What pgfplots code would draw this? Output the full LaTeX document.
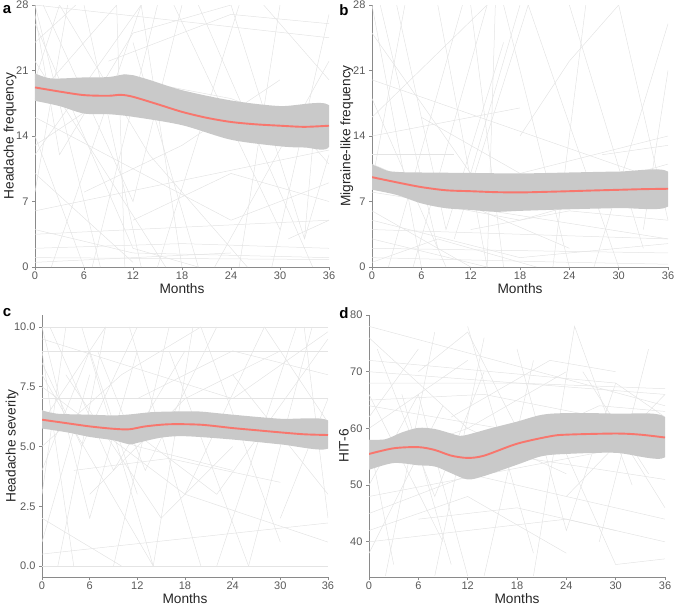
\documentclass[border=0pt]{standalone}
\usepackage{fontspec}
\setmainfont{Liberation Sans}
\usepackage{pgfplots}
\pgfplotsset{compat=1.18}
\definecolor{smred}{HTML}{F8766D}
\definecolor{bandc}{HTML}{C9C9C9}
\definecolor{spagc}{HTML}{E4E4E4}
\definecolor{axgray}{HTML}{8A8A8A}
\definecolor{ticklab}{HTML}{595959}
\newcommand{\lblfont}{\fontsize{13.7}{15}\selectfont}
\pgfplotsset{
  panel/.style={
    scale only axis, anchor=south west,
    axis x line*=bottom, axis y line*=left,
    axis line style={axgray, line width=0.9pt, -},
    every tick/.style={axgray, line width=0.7pt},
    tick align=outside, major tick length=3pt,
    xmin=0, xmax=36, xtick={0,6,...,36},
    ticklabel style={font=\fontsize{11}{12}\selectfont, text=ticklab},
    xticklabel style={yshift=1.5pt},
    /pgf/number format/assume math mode=true,
    xlabel={Months},
    every axis x label/.style={at={(axis description cs:0.5,0)}, anchor=center, yshift=-22pt, font=\lblfont, text=black!85},
    every axis y label/.style={rotate=90, anchor=center, font=\lblfont, text=black!85},
  },
  sp/.style={spagc, line width=0.5pt, no marks, forget plot},
  bandst/.style={fill=bandc, draw=none, smooth, forget plot},
  meanst/.style={smred, line width=1.9pt, smooth, no marks},
}
\begin{document}
\begin{tikzpicture}
\path[use as bounding box] (0,0) rectangle (676pt,606pt);
% ---------------- a ----------------
\begin{axis}[panel, at={(35pt,339pt)}, width=294pt, height=262pt,
  ymin=0, ymax=28, ytick={0,7,14,21,28}, ylabel={Headache frequency},
  ylabel style={at={(axis description cs:-0.085,0.5)}}]
\addplot[sp] coordinates {(0,28)(36,24.5)};
\addplot[sp] coordinates {(0,6)(36,12.5)};
\addplot[sp] coordinates {(0,28)(8,0)};
\addplot[sp] coordinates {(0,26)(12,2)(20,0)};
\addplot[sp] coordinates {(0,24)(5,28)};
\addplot[sp] coordinates {(0,22)(16,0)};
\addplot[sp] coordinates {(0,20)(3,28)};
\addplot[sp] coordinates {(0,18)(10,28)};
\addplot[sp] coordinates {(0,16)(24,5)(36,9)};
\addplot[sp] coordinates {(0,14)(6,0)};
\addplot[sp] coordinates {(0,12)(13,28)};
\addplot[sp] coordinates {(0,10)(12,0.5)};
\addplot[sp] coordinates {(0,8)(4,28)};
\addplot[sp] coordinates {(0,4)(12,1.5)(36,1)};
\addplot[sp] coordinates {(0,3.5)(36,5)};
\addplot[sp] coordinates {(0,1)(36,0.8)};
\addplot[sp] coordinates {(0,2)(18,2.5)(36,2)};
\addplot[sp] coordinates {(0,0.5)(24,1.5)};
\addplot[sp] coordinates {(0,27)(3,12)(12,25)(24,28)};
\addplot[sp] coordinates {(1,28)(12,7)(18,28)};
\addplot[sp] coordinates {(2,0)(13,28)};
\addplot[sp] coordinates {(3,28)(14,12)(26,0)};
\addplot[sp] coordinates {(6,28)(13,0)};
\addplot[sp] coordinates {(7,0)(15,28)};
\addplot[sp] coordinates {(10,28)(11,0)};
\addplot[sp] coordinates {(12,24)(20,0)};
\addplot[sp] coordinates {(13,28)(18,0)};
\addplot[sp] coordinates {(15,0)(25,28)};
\addplot[sp] coordinates {(17,28)(30,4)};
\addplot[sp] coordinates {(20,28)(34,0)};
\addplot[sp] coordinates {(22,0)(36,22)};
\addplot[sp] coordinates {(24,28)(33,3)(36,12)};
\addplot[sp] coordinates {(25,0)(30,28)};
\addplot[sp] coordinates {(28,28)(36,20)};
\addplot[sp] coordinates {(29,0)(36,27)};
\addplot[sp] coordinates {(31,3)(36,5)};
\addplot[sp] coordinates {(33,3)(34,13)(36,11)};
\addplot[sp] coordinates {(12,5)(24,10)(36,7)};
\addplot[sp] coordinates {(6,8)(18,13)(30,20)};
\addplot[sp] coordinates {(0,13)(12,20)(24,18)(36,14)};
\addplot[sp] coordinates {(9,22)(24,27)(36,26)};
\addplot[bandst] coordinates {(0,20.7)(2,20.15)(6,20.26)(9,20.3)(11,20.6)(12,20.5)(14,20.0)(18,18.9)(24,17.8)(30,17.2)(36,17.3)
 (36,12.84)(33,12.77)(30,12.9)(24,13.6)(18,15.16)(12,16.05)(9,16.33)(6,16.4)(3,17.2)(0,17.76)} -- cycle;
\addplot[meanst] coordinates {(0,19.19)(3,18.75)(6,18.37)(9,18.3)(10.5,18.4)(12,18.19)(15,17.4)(18,16.58)(21,15.95)(24,15.5)(27,15.25)(30,15.1)(33,14.98)(36,15.1)};
\end{axis}
% ---------------- b ----------------
\begin{axis}[panel, at={(372pt,339pt)}, width=296pt, height=262pt,
  ymin=0, ymax=28, ytick={0,7,14,21,28}, ylabel={Migraine-like frequency},
  ylabel style={at={(axis description cs:-0.085,0.5)}}]
\addplot[sp] coordinates {(0,28)(6,0)};
\addplot[sp] coordinates {(0,25)(12,10)(18,28)};
\addplot[sp] coordinates {(0,20)(36,9)};
\addplot[sp] coordinates {(0,18)(9,0)};
\addplot[sp] coordinates {(0,16)(14,28)};
\addplot[sp] coordinates {(0,14)(18,17)};
\addplot[sp] coordinates {(0,12)(10,12)};
\addplot[sp] coordinates {(0,11)(24,2)};
\addplot[sp] coordinates {(0,9)(4,28)};
\addplot[sp] coordinates {(0,8)(36,3)};
\addplot[sp] coordinates {(0,6)(12,0)};
\addplot[sp] coordinates {(0,5)(18,1)(36,2.5)};
\addplot[sp] coordinates {(0,4)(36,3)};
\addplot[sp] coordinates {(0,3)(14,0)};
\addplot[sp] coordinates {(0,2)(36,1.5)};
\addplot[sp] coordinates {(0,1)(24,0.5)(36,0.3)};
\addplot[sp] coordinates {(0,0.5)(8,3)(20,0)};
\addplot[sp] coordinates {(1,28)(8,2)};
\addplot[sp] coordinates {(2,0)(11,28)};
\addplot[sp] coordinates {(3,28)(9,4)(16,24)};
\addplot[sp] coordinates {(5,0)(14,28)};
\addplot[sp] coordinates {(6,16)(18,10)(36,14)};
\addplot[sp] coordinates {(8,28)(14,0)};
\addplot[sp] coordinates {(10,3)(19,28)};
\addplot[sp] coordinates {(12,28)(16,0)};
\addplot[sp] coordinates {(14,0)(15,28)};
\addplot[sp] coordinates {(16,28)(24,0)};
\addplot[sp] coordinates {(18,14)(24,22)(30,28)};
\addplot[sp] coordinates {(19,28)(30,0)};
\addplot[sp] coordinates {(22,0)(26,28)};
\addplot[sp] coordinates {(24,28)(33,2)};
\addplot[sp] coordinates {(27,0)(36,26)};
\addplot[sp] coordinates {(28,12)(36,13)};
\addplot[sp] coordinates {(30,28)(36,5)};
\addplot[sp] coordinates {(33,4)(36,21)};
\addplot[sp] coordinates {(24,8)(36,11)};
\addplot[sp] coordinates {(12,4)(24,6)(36,5)};
\addplot[sp] coordinates {(6,7)(18,5)(30,8)};
\addplot[bandst] coordinates {(0,10.95)(1,10.6)(2,10.25)(4,10.12)(6,10.1)(12,10.05)(18,10.0)(24,10.1)(30,10.2)(36,10.2)
 (36,6.46)(30,6.3)(24,6.17)(18,6.0)(15,5.9)(12,6.1)(9,6.28)(6,6.8)(3,7.7)(0,8.26)} -- cycle;
\addplot[meanst] coordinates {(0,9.6)(3,9.05)(6,8.54)(9,8.2)(12,8.1)(15,8.0)(18,7.97)(21,8.03)(24,8.1)(27,8.18)(30,8.25)(33,8.32)(36,8.36)};
\end{axis}
% ---------------- c ----------------
\begin{axis}[panel, at={(42pt,29pt)}, width=286pt, height=262pt,
  ymin=-0.46, ymax=10.5, ytick={0,2.5,5,7.5,10}, ylabel={Headache severity},
  yticklabel style={/pgf/number format/.cd, fixed, fixed zerofill, precision=1},
  ylabel style={at={(axis description cs:-0.105,0.5)}}]
\addplot[sp] coordinates {(0,10)(36,10)};
\addplot[sp] coordinates {(0,9)(36,9)};
\addplot[sp] coordinates {(0,7)(9,7)};
\addplot[sp] coordinates {(0,0)(36,0)};
\addplot[sp] coordinates {(0,10)(6,2)(12,9)};
\addplot[sp] coordinates {(0,8)(14,0)};
\addplot[sp] coordinates {(0,9.5)(24,7)(36,9.8)};
\addplot[sp] coordinates {(0,8.5)(5,5)(12,10)};
\addplot[sp] coordinates {(0,7.5)(18,3)(36,1)};
\addplot[sp] coordinates {(0,6)(8,10)};
\addplot[sp] coordinates {(0,5)(10,8)(20,10)};
\addplot[sp] coordinates {(0,4)(6,9)(12,3)};
\addplot[sp] coordinates {(0,3)(3,10)};
\addplot[sp] coordinates {(0,2)(10,0)};
\addplot[sp] coordinates {(0,1)(6,8)};
\addplot[sp] coordinates {(0,0.5)(36,1.8)};
\addplot[sp] coordinates {(0,6.5)(12,5)(24,4)};
\addplot[sp] coordinates {(0,9)(4,0)};
\addplot[sp] coordinates {(1,10)(9,4)(18,9)};
\addplot[sp] coordinates {(2,0)(8,10)};
\addplot[sp] coordinates {(3,8)(15,2)(24,5)};
\addplot[sp] coordinates {(5,10)(14,0)};
\addplot[sp] coordinates {(6,3)(18,7)(30,9)};
\addplot[sp] coordinates {(7,9)(13,4)(22,10)};
\addplot[sp] coordinates {(9,0)(16,10)};
\addplot[sp] coordinates {(11,10)(20,0)};
\addplot[sp] coordinates {(12,7)(24,9)(36,8)};
\addplot[sp] coordinates {(14,0)(19,10)};
\addplot[sp] coordinates {(16,9)(26,0)};
\addplot[sp] coordinates {(18,3)(28,10)};
\addplot[sp] coordinates {(20,10)(30,1)};
\addplot[sp] coordinates {(22,0)(32,10)};
\addplot[sp] coordinates {(24,8)(36,3)};
\addplot[sp] coordinates {(26,0)(34,10)};
\addplot[sp] coordinates {(28,10)(36,6)};
\addplot[sp] coordinates {(30,2)(36,7)};
\addplot[sp] coordinates {(33,10)(36,2)};
\addplot[sp] coordinates {(8,7)(24,7)(36,7)};
\addplot[sp] coordinates {(4,4)(16,4.5)(30,3.5)};
\addplot[sp] coordinates {(10,6)(22,3)(36,9.5)};
\addplot[bandst] coordinates {(0,6.51)(2,6.37)(6,6.33)(9,6.3)(11,6.34)(14,6.44)(18,6.47)(20,6.46)(24,6.33)(30,6.16)(36,6.09)
 (36,4.91)(30,5.09)(24,5.29)(18,5.43)(15,5.37)(12,5.15)(11,5.09)(9,5.26)(6,5.4)(3,5.6)(0,5.75)} -- cycle;
\addplot[meanst] coordinates {(0,6.12)(3,5.98)(6,5.84)(9,5.74)(11,5.72)(13,5.84)(16,5.93)(20,5.91)(24,5.77)(27,5.68)(30,5.59)(33,5.51)(36,5.48)};
\end{axis}
% ---------------- d ----------------
\begin{axis}[panel, at={(369pt,29pt)}, width=296pt, height=262pt,
  ymin=33.8, ymax=80, ytick={40,50,60,70,80}, ylabel={HIT-6},
  ylabel style={at={(axis description cs:-0.085,0.5)}}]
\addplot[sp] coordinates {(0,78)(36,64)};
\addplot[sp] coordinates {(0,76)(12,60)(24,70)};
\addplot[sp] coordinates {(0,72)(30,68)(36,62)};
\addplot[sp] coordinates {(0,70)(36,66)};
\addplot[sp] coordinates {(0,68)(18,68)(36,67)};
\addplot[sp] coordinates {(0,66)(9,40)};
\addplot[sp] coordinates {(0,64)(24,58)(36,60)};
\addplot[sp] coordinates {(0,62)(6,74)};
\addplot[sp] coordinates {(0,60)(12,72)};
\addplot[sp] coordinates {(0,58)(3,36)};
\addplot[sp] coordinates {(0,56)(18,50)(36,44)};
\addplot[sp] coordinates {(0,54)(12,60)(24,52)};
\addplot[sp] coordinates {(0,50)(6,66)(12,34)};
\addplot[sp] coordinates {(0,48)(36,58)};
\addplot[sp] coordinates {(0,45)(18,55)(36,51)};
\addplot[sp] coordinates {(0,42)(12,48)(24,38)};
\addplot[sp] coordinates {(0,40)(24,44)(36,40)};
\addplot[sp] coordinates {(0,38)(9,64)};
\addplot[sp] coordinates {(1,74)(8,48)(14,70)};
\addplot[sp] coordinates {(2,34)(8,77)};
\addplot[sp] coordinates {(4,66)(10,36)};
\addplot[sp] coordinates {(6,70)(12,77)(18,60)};
\addplot[sp] coordinates {(8,34)(14,76)};
\addplot[sp] coordinates {(10,62)(22,72)(30,70)};
\addplot[sp] coordinates {(12,78)(20,38)};
\addplot[sp] coordinates {(14,34)(20,72)};
\addplot[sp] coordinates {(16,56)(28,64)(36,63)};
\addplot[sp] coordinates {(18,74)(24,42)(30,68)};
\addplot[sp] coordinates {(20,34)(25,78)(32,50)};
\addplot[sp] coordinates {(22,62)(30,36)(36,37)};
\addplot[sp] coordinates {(24,48)(36,66)};
\addplot[sp] coordinates {(26,70)(34,52)};
\addplot[sp] coordinates {(28,40)(34,74)};
\addplot[sp] coordinates {(30,60)(36,46)};
\addplot[sp] coordinates {(12,52)(24,60)(36,55)};
\addplot[sp] coordinates {(6,44)(18,46)(30,42)};
\addplot[sp] coordinates {(0,65)(14,66)(28,62)};
\addplot[bandst] coordinates {(0,58.0)(2,58.1)(4,59.3)(6,60.1)(8,59.9)(10,59.1)(11,58.7)(12,58.9)(15,60.1)(18,61.2)(21,62.4)(24,62.7)(30,62.6)(36,62.0)
 (36,54.9)(30,55.7)(24,55.5)(21,55.1)(18,53.6)(14,51.6)(12,51.0)(10,52.1)(8,53.3)(6,53.5)(3,53.9)(0,52.7)} -- cycle;
\addplot[meanst] coordinates {(0,55.5)(3,56.5)(6,56.7)(8,56.2)(10,55.2)(12,54.8)(14,55.2)(18,57.3)(22,58.6)(24,58.9)(30,59.1)(33,58.9)(36,58.4)};
\end{axis}
\node[font=\bfseries\fontsize{15}{16}\selectfont, anchor=center] at (7pt,596pt) {a};
\node[font=\bfseries\fontsize{15}{16}\selectfont, anchor=center] at (344pt,596pt) {b};
\node[font=\bfseries\fontsize{15}{16}\selectfont, anchor=center] at (7pt,293pt) {c};
\node[font=\bfseries\fontsize{15}{16}\selectfont, anchor=center] at (344pt,293pt) {d};
\end{tikzpicture}
\end{document}
